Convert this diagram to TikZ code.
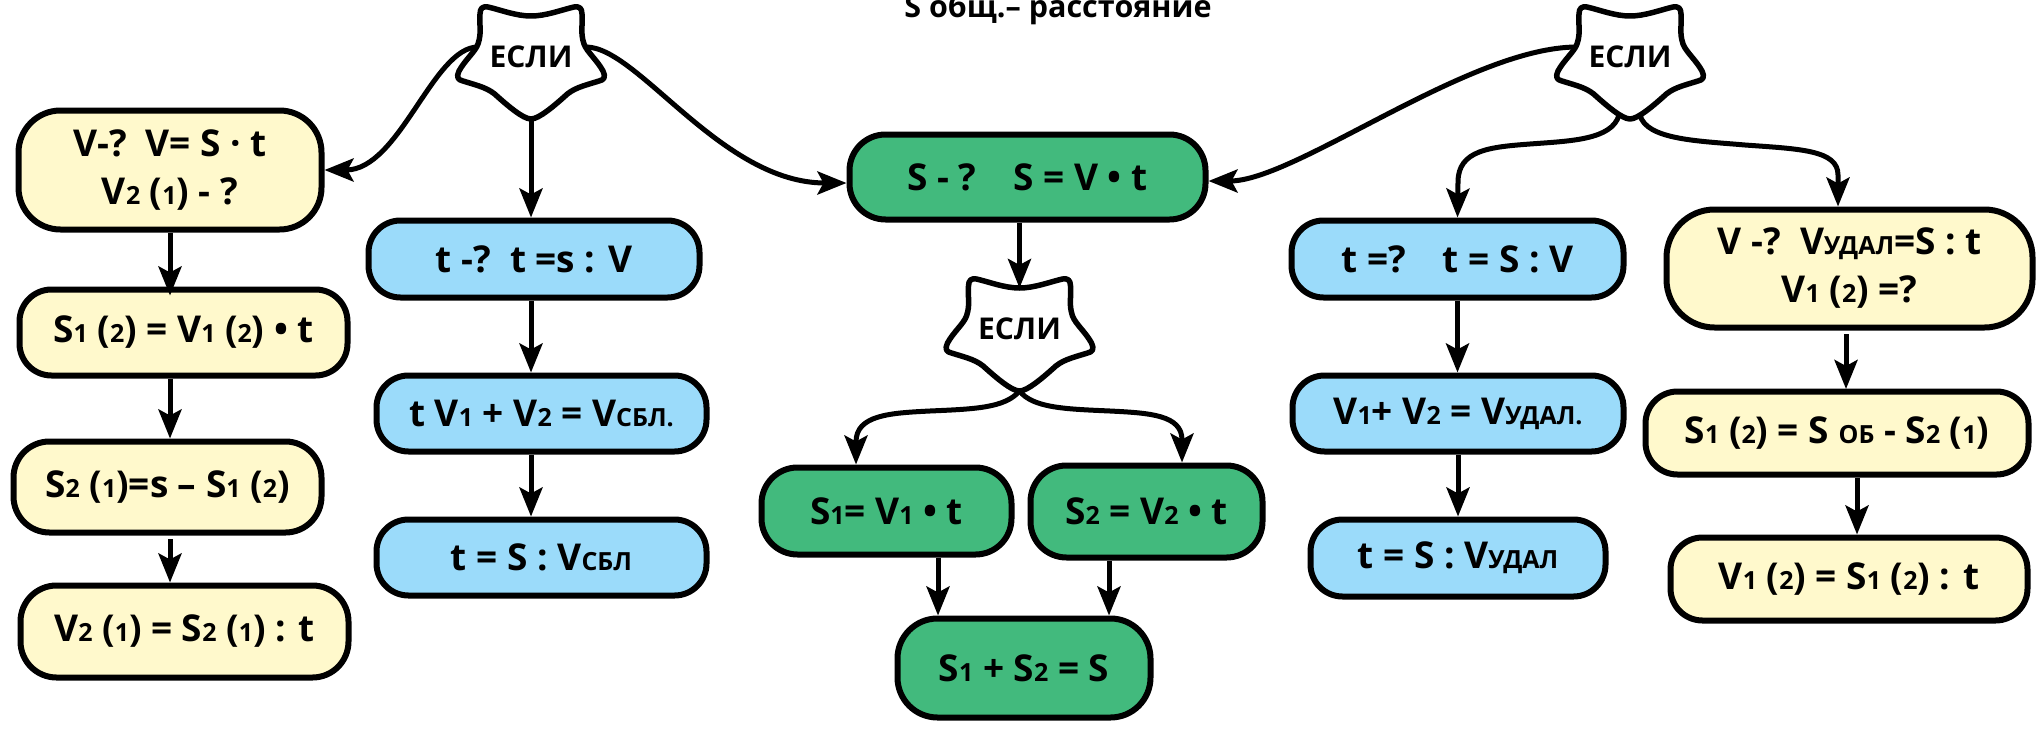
\documentclass[tikz,border=0pt]{standalone}
\usepackage{fontspec}
\setmainfont{Open Sans}
\usetikzlibrary{arrows.meta}

\definecolor{boxyellow}{RGB}{255,249,204}
\definecolor{boxblue}{RGB}{155,219,250}
\definecolor{boxgreen}{RGB}{66,186,125}

\newcommand{\idx}[1]{{\fontsize{25}{25}\selectfont #1}}

\tikzset{
  formula/.style={draw=black, line width=6pt, rounded corners=32pt, align=center, inner sep=0pt,
    font=\fontsize{37}{48}\selectfont\bfseries},
  yellowbox/.style={formula, fill=boxyellow},
  bluebox/.style={formula, fill=boxblue},
  greenbox/.style={formula, fill=boxgreen},
  starline/.style={draw=black, line width=5.5pt, fill=white, line join=round},
  esli/.style={inner sep=0pt, font=\fontsize{30}{30}\selectfont\bfseries},
  arrow/.style={draw=black, line width=5pt, -{Stealth[length=29pt,width=23pt,inset=6pt]}}
}

\begin{document}
\begin{tikzpicture}[x=1pt,y=-1pt]

  \useasboundingbox (0,0) rectangle (2036,731);
  \clip (0,0) rectangle (2036,731);

  \node[inner sep=0pt, anchor=base, font=\fontsize{30.5}{30.5}\selectfont\bfseries] (title) at (1058,17) {S общ.– расстояние};

  % Stars
  \foreach \name/\cx/\cy in {star1/531/0, star2/1019.5/272, star3/1630/0} {
    \draw[starline, shift={(\cx,\cy)}] (0,16)
      .. controls (15,16) and (30,10) .. (43,7)
      .. controls (48,6) and (51,8) .. (51,14)
      .. controls (52,25) and (49,32) .. (53,44)
      .. controls (56,52) and (66,60) .. (72,71)
      .. controls (75,77) and (73,80) .. (68,81)
      .. controls (52,86) and (42,88) .. (33,97)
      .. controls (24,105) and (8,119) .. (0,119)
      .. controls (-8,119) and (-24,105) .. (-33,97)
      .. controls (-42,88) and (-52,86) .. (-68,81)
      .. controls (-73,80) and (-75,77) .. (-72,71)
      .. controls (-66,60) and (-56,52) .. (-53,44)
      .. controls (-49,32) and (-52,25) .. (-51,14)
      .. controls (-51,8) and (-48,6) .. (-43,7)
      .. controls (-30,10) and (-15,16) .. (0,16) -- cycle;
    \node[esli] (\name) at (\cx,\cy+57) {ЕСЛИ};
    \coordinate (\name-t) at (\cx,\cy+16);
    \coordinate (\name-b) at (\cx,\cy+119);
    \coordinate (\name-l) at (\cx-53,\cy+47);
    \coordinate (\name-r) at (\cx+55,\cy+47);
    \coordinate (\name-bl) at (\cx-11,\cy+115);
    \coordinate (\name-br) at (\cx+10,\cy+115);
  }

  % Left column
  \node[yellowbox, minimum width=303pt, minimum height=119pt, rounded corners=42pt] (A1) at (170,170) {V-?\ \ V= S · t\\V\idx{2} (\idx{1}) - ?};
  \node[yellowbox, minimum width=328pt, minimum height=86pt] (A2) at (183.5,332.5) {S\idx{1} (\idx{2})\ = V\idx{1} (\idx{2}) • t};
  \node[yellowbox, minimum width=308pt, minimum height=91pt, rounded corners=36pt] (A3) at (167.5,487) {S\idx{2} (\idx{1})=s – S\idx{1} (\idx{2})};
  \node[yellowbox, minimum width=328pt, minimum height=92pt, rounded corners=36pt] (A4) at (184.5,631.5) {V\idx{2} (\idx{1})\ = S\idx{2} (\idx{1}) : t};

  % Second column
  \node[bluebox, minimum width=331pt, minimum height=77pt] (B1) at (534,259) {t -?\ \ t =s : V};
  \node[bluebox, minimum width=330pt, minimum height=76pt] (B2) at (541.5,413.5) {t V\idx{1} + V\idx{2} = V\idx{СБЛ.}};
  \node[bluebox, minimum width=330pt, minimum height=76pt] (B3) at (541.5,557.5) {t = S : V\idx{СБЛ}};

  % Middle
  \node[greenbox, minimum width=356pt, minimum height=85pt, rounded corners=36pt] (C1) at (1027.5,177) {S - ?\quad S = V • t};
  \node[greenbox, minimum width=250pt, minimum height=87pt, rounded corners=36pt] (C2) at (886.5,511) {S\idx{1}= V\idx{1} • t};
  \node[greenbox, minimum width=232pt, minimum height=92pt, rounded corners=36pt] (C3) at (1146.5,511.5) {S\idx{2} = V\idx{2} • t};
  \node[greenbox, minimum width=253pt, minimum height=99pt, rounded corners=40pt] (C4) at (1024,668) {S\idx{1} + S\idx{2} = S};

  % Fourth column
  \node[bluebox, minimum width=332pt, minimum height=77pt] (D1) at (1457.5,259) {t =?\quad t = S : V};
  \node[bluebox, minimum width=331pt, minimum height=76pt] (D2) at (1458,413.5) {V\idx{1}+ V\idx{2} = V\idx{УДАЛ.}};
  \node[bluebox, minimum width=295pt, minimum height=77pt] (D3) at (1458,558) {t = S : V\idx{УДАЛ}};

  % Right column
  \node[yellowbox, minimum width=366pt, minimum height=118pt, rounded corners=48pt] (E1) at (1849.5,268.5) {V -?\ \ V\idx{УДАЛ}=S : t\\V\idx{1} (\idx{2}) =?};
  \node[yellowbox, minimum width=383pt, minimum height=83pt] (E2) at (1837,433) {S\idx{1} (\idx{2})\ = S \idx{ОБ} - S\idx{2} (\idx{1})};
  \node[yellowbox, minimum width=357pt, minimum height=83pt] (E3) at (1849,579) {V\idx{1} (\idx{2}) = S\idx{1} (\idx{2}) : t};

  % Arrows from the stars
  \draw[arrow] (star1-l) .. controls +(-45,0) and +(75,0) .. (A1.east);
  \draw[arrow] (star1-r) .. controls +(52,0) and +(-125,0) .. ([yshift=-6pt]C1.west);
  \draw[arrow] (star3-l) .. controls +(-108,0) and +(87,0) .. ([yshift=-4pt]C1.east);
  \draw[arrow] (star1-b) -- (star1-b |- B1.north);
  \draw[arrow] (star2-t |- C1.south) -- (star2-t);
  \draw[arrow] (star2-b) .. controls (1005,408) and (975,409) .. (930,411)
    .. controls (890,413) and (856,415) .. (856,442) -- ([xshift=-30.5pt]C2.north);
  \draw[arrow] (star2-b) .. controls (1033,408) and (1065,409) .. (1110,411)
    .. controls (1150,413) and (1182,415) .. (1182,440) -- ([xshift=35.5pt]C3.north);
  \draw[arrow] (star3-bl) .. controls (1612,140) and (1570,141) .. (1530,144)
    .. controls (1490,147) and (1458,150) .. (1458,182) -- (D1.north);
  \draw[arrow] (star3-br) .. controls (1646,140) and (1700,141) .. (1745,145)
    .. controls (1800,149) and (1838,150) .. (1838,175) -- ([xshift=-11.5pt]E1.north);

  % Arrows in the columns
  \draw[arrow, shorten >=-9pt] (A1.south) -- (A1.south |- A2.north);
  \draw[arrow] (A1.south |- A2.south) -- (A1.south |- A3.north);
  \draw[arrow] (170,539) -- (A1.south |- A4.north);
  \draw[arrow] (star1-b |- B1.south) -- (star1-b |- B2.north);
  \draw[arrow] (star1-b |- B2.south) -- (star1-b |- B3.north);
  \draw[arrow] ([xshift=51.5pt]C2.south) -- ([xshift=51.5pt]C2.south |- C4.north);
  \draw[arrow] ([xshift=-37.5pt]C3.south) -- ([xshift=-37.5pt]C3.south |- C4.north);
  \draw[arrow] (D1.south) -- (D1.south |- D2.north);
  \draw[arrow] (D2.south) -- (D2.south |- D3.north);
  \draw[arrow] (1846,334) -- (1846,389);
  \draw[arrow] ([xshift=20pt]E2.south) -- ([xshift=20pt]E2.south |- E3.north);

\end{tikzpicture}
\end{document}
